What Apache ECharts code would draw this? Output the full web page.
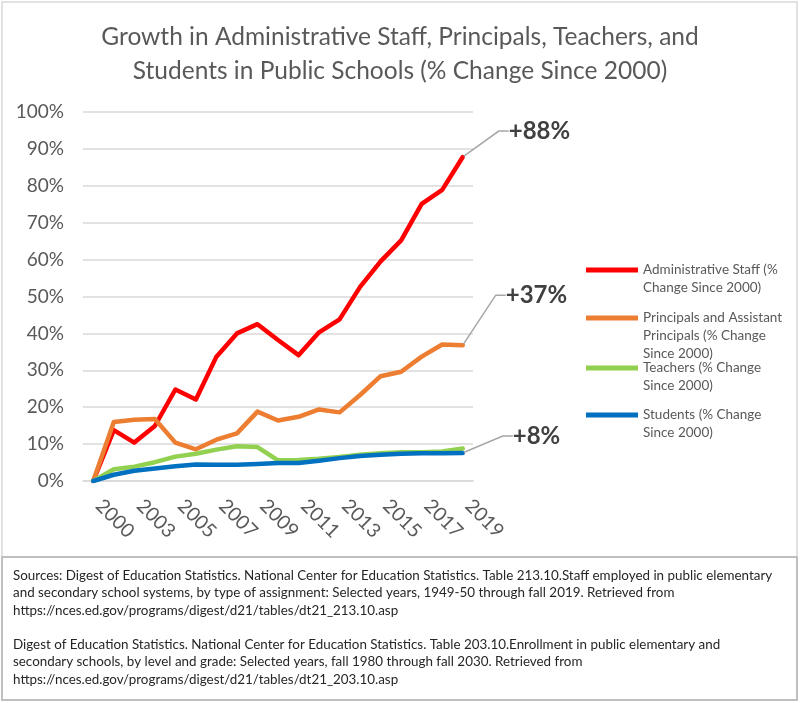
<!DOCTYPE html>
<html style="height: 100%">
<head>
    <meta charset="UTF-8">
    <title>Growth in Administrative Staff, Principals, Teachers, and Students</title>
    <script src="https://cdn.jsdelivr.net/npm/echarts@6/dist/echarts.min.js"></script>
</head>
<body style="height: 100%; margin: 0; background: #fff">
    <div id="main" style="width: 800px; height: 703px"></div>
    <script type="text/javascript">
        // one year is missing between 2000 and 2003 in the source table
        const years = ['2000', '2001', '2003', '2004', '2005', '2006', '2007', '2008', '2009', '2010',
                       '2011', '2012', '2013', '2014', '2015', '2016', '2017', '2018', '2019'];
        const admin = [0, 13.8, 10.4, 14.9, 24.8, 22.1, 33.7, 40.0, 42.5, 38.2,
                       34.1, 40.3, 43.8, 52.6, 59.5, 65.2, 75.1, 78.9, 87.8];
        const principals = [0, 16.0, 16.6, 16.8, 10.4, 8.6, 11.2, 12.9, 18.8, 16.4,
                            17.4, 19.4, 18.6, 23.3, 28.4, 29.6, 33.7, 37.0, 36.8];
        const teachers = [0, 3.2, 3.9, 5.1, 6.6, 7.4, 8.5, 9.4, 9.2, 5.6,
                          5.7, 6.0, 6.5, 7.1, 7.5, 7.8, 7.8, 8.0, 8.8];
        const students = [0, 1.7, 2.8, 3.4, 4.0, 4.5, 4.4, 4.4, 4.6, 4.9,
                          4.9, 5.5, 6.2, 6.8, 7.1, 7.4, 7.5, 7.5, 7.6];
        const seriesNames = ['Administrative Staff (% Change Since 2000)',
                             'Principals and Assistant Principals (% Change Since 2000)',
                             'Teachers (% Change Since 2000)',
                             'Students (% Change Since 2000)'];
        const legendLines = [['Administrative Staff (%', 'Change Since 2000)'],
                             ['Principals and Assistant', 'Principals (% Change', 'Since 2000)'],
                             ['Teachers (% Change', 'Since 2000)'],
                             ['Students (% Change', 'Since 2000)']];
        const endLabels = ['+88%', '+37%', null, '+8%'];

        const sourcesText = [
            'Sources: Digest of Education Statistics. National Center for Education Statistics. Table 213.10.Staff employed in public elementary',
            'and secondary school systems, by type of assignment: Selected years, 1949-50 through fall 2019. Retrieved from',
            'https://nces.ed.gov/programs/digest/d21/tables/dt21_213.10.asp',
            '',
            'Digest of Education Statistics. National Center for Education Statistics. Table 203.10.Enrollment in public elementary and',
            'secondary schools, by level and grade: Selected years, fall 1980 through fall 2030. Retrieved from',
            'https://nces.ed.gov/programs/digest/d21/tables/dt21_203.10.asp'
        ].join('\n');

        const colors = ['#ff0000', '#ed7d31', '#92d050', '#0070c0'];
        const font = 'Lato, "Noto Sans", sans-serif';
        const legendCenters = [270, 318, 368, 415];
        const legendLH = 17.7;
        // offsets of the end labels from the last point
        const labelShift = [[40, -26], [37, -50], null, [44, -17]];

        const myChart = echarts.init(document.getElementById('main'));

        const values = [admin, principals, teachers, students];

        const legends = seriesNames.map(function (name, i) {
            const n = legendLines[i].length;
            return {
                orient: 'vertical',
                left: 586,
                top: legendCenters[i] - (2 * n - 1) * legendLH / 2,
                padding: 0,
                icon: 'rect',
                itemWidth: 52,
                itemHeight: 5,
                data: [name],
                selectedMode: false,
                formatter: function () {
                    return '\n'.repeat(n - 1) + legendLines[i].join('\n');
                },
                textStyle: {
                    fontFamily: font,
                    fontSize: 13.5,
                    color: '#595959',
                    lineHeight: legendLH
                }
            };
        });

        const series = seriesNames.map(function (name, i) {
            const data = values[i].map(function (v, j) {
                if (j === values[i].length - 1 && endLabels[i]) {
                    return {
                        value: v,
                        symbol: 'circle',
                        symbolSize: 2,
                        label: {show: true, formatter: endLabels[i]},
                        labelLine: {show: true}
                    };
                }
                return v;
            });
            return {
                name: name,
                type: 'line',
                data: data,
                symbol: 'none',
                showSymbol: true,
                color: colors[i],
                lineStyle: {width: 4.5, color: colors[i], join: 'round', cap: 'round'},
                itemStyle: {color: colors[i]},
                label: {
                    show: false,
                    position: 'right',
                    distance: 5,
                    fontFamily: font,
                    fontSize: 24,
                    fontWeight: 'bold',
                    color: '#404040'
                },
                labelLine: {
                    show: false,
                    length2: 10,
                    smooth: false,
                    lineStyle: {color: '#a6a6a6', width: 1.5}
                },
                labelLayout: labelShift[i] ? {dx: labelShift[i][0], dy: labelShift[i][1]} : null,
                emphasis: {disabled: true},
                animation: false
            };
        });

        myChart.setOption({
            backgroundColor: '#fff',
            animation: false,
            title: {
                text: 'Growth in Administrative Staff, Principals, Teachers, and\nStudents in Public Schools (% Change Since 2000)',
                left: 'center',
                top: 15,
                textStyle: {
                    fontFamily: font,
                    fontSize: 24.5,
                    fontWeight: 'normal',
                    color: '#595959',
                    lineHeight: 34
                }
            },
            legend: legends,
            grid: {
                left: 83,
                right: 327,
                top: 112,
                bottom: 222,
                outerBoundsMode: 'none'
            },
            xAxis: {
                type: 'category',
                data: years,
                boundaryGap: true,
                axisLine: {lineStyle: {color: '#d9d9d9', width: 1.5}},
                axisTick: {show: false},
                axisLabel: {
                    interval: 1,
                    rotate: -45,
                    margin: 16,
                    padding: [0, 0, 0, 8],
                    fontFamily: font,
                    fontSize: 19.5,
                    color: '#595959'
                }
            },
            yAxis: {
                type: 'value',
                min: 0,
                max: 100,
                interval: 10,
                axisLine: {show: false},
                axisTick: {show: false},
                splitLine: {lineStyle: {color: '#d9d9d9', width: 1.5}},
                axisLabel: {
                    formatter: '{value}%',
                    margin: 19,
                    fontFamily: font,
                    fontSize: 19,
                    color: '#595959'
                }
            },
            graphic: [
                {
                    type: 'rect',
                    shape: {x: 2, y: 2, width: 795, height: 555},
                    style: {fill: 'none', stroke: '#d9d9d9', lineWidth: 1.5},
                    silent: true
                },
                {
                    type: 'rect',
                    shape: {x: 2, y: 557, width: 795, height: 143},
                    style: {fill: 'none', stroke: '#bfbfbf', lineWidth: 2},
                    silent: true
                },
                {
                    type: 'text',
                    left: 13,
                    top: 567,
                    style: {
                        text: sourcesText,
                        font: '13.4px ' + font,
                        fill: '#262626',
                        lineHeight: 17.3
                    },
                    silent: true
                }
            ],
            series: series
        });
    </script>
</body>
</html>
